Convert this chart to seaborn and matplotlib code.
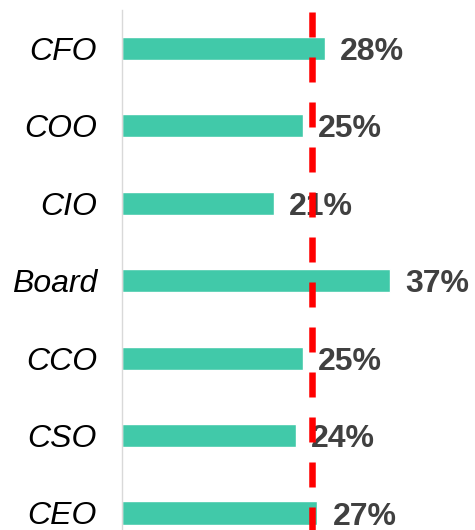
import matplotlib
matplotlib.use('Agg')
import matplotlib.pyplot as plt
import seaborn as sns
import pandas as pd

# Data
roles = ['CFO', 'COO', 'CIO', 'Board', 'CCO', 'CSO', 'CEO']
shares = [28, 25, 21, 37, 25, 24, 27]
benchmark = 26.2

df = pd.DataFrame({'role': roles, 'share': shares})

sns.set_style('white')
plt.rcParams['font.family'] = ['Liberation Sans', 'DejaVu Sans']
plt.rcParams['lines.scale_dashes'] = False

fig = plt.figure(figsize=(4.75, 5.3), dpi=100)
# axes runs past the bottom edge, like the cropped reference
ax = fig.add_axes([122 / 475, -21.7 / 530, 353 / 475, 542 / 530])

sns.barplot(data=df, x='share', y='role', order=roles, orient='h',
            color='#41C9A9', saturation=1, width=0.3, ax=ax)

ax.set_xlim(0, 353 / 7.24)
ax.set_ylim(6.5, -0.5)

# value labels (baseline placed so the digits sit centred on the bar)
for i, v in enumerate(shares):
    ax.annotate(f'{v}%', xy=(v, i), xytext=(11, -8.3), textcoords='offset points',
                va='baseline', ha='left', fontsize=23, fontweight='bold',
                color='#404040')

# red dashed reference line, drawn on top
ax.plot([benchmark, benchmark], [-0.47, 6.5], color='#FF0000', lw=4.7,
        linestyle=(0, (18, 14.4)), dash_capstyle='butt',
        zorder=5, clip_on=False)

ax.set_xlabel('')
ax.set_ylabel('')
ax.set_xticks([])
ax.tick_params(axis='y', length=0, pad=18)
for lbl in ax.get_yticklabels():
    lbl.set_fontsize(23)
    lbl.set_fontstyle('italic')
    lbl.set_color('black')

for s in ['top', 'right', 'bottom']:
    ax.spines[s].set_visible(False)
ax.spines['left'].set_color('#D9D9D9')
ax.spines['left'].set_linewidth(1)

fig.savefig('out.png', dpi=100)
